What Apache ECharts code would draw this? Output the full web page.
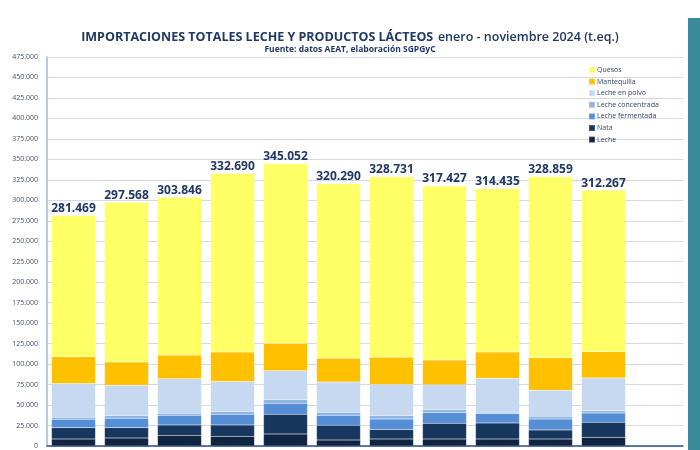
<!DOCTYPE html>
<html>
<head>
<meta charset="utf-8">
<script src="https://cdn.jsdelivr.net/npm/echarts@6/dist/echarts.min.js"></script>
<style>
html,body{margin:0;padding:0;background:#fff;}
#chart{width:700px;height:450px;}
</style>
</head>
<body>
<div id="chart"></div>
<script>
// meses enero - noviembre (la última casilla queda vacía)
var meses = ['ene','feb','mar','abr','may','jun','jul','ago','sep','oct','nov',''];

var leche        = [8600, 9800, 13000, 11800, 14700, 7300, 8600, 8600, 8600, 8600, 10700];
var nata         = [13800, 12600, 12700, 13900, 24000, 17900, 11700, 19100, 19600, 11000, 18300];
var fermentada   = [10200, 11400, 11800, 13000, 13500, 12300, 12700, 13100, 11500, 13400, 11400];
var concentrada  = [2400, 3300, 2500, 3300, 4500, 3700, 4100, 3700, 1600, 3400, 2500];
var polvo        = [41300, 37200, 42000, 36800, 35200, 36800, 38000, 30200, 41300, 31800, 40000];
var mantequilla  = [32700, 28200, 29000, 35900, 33400, 29000, 33400, 30200, 32200, 39600, 32300];
var quesos       = [172500, 195100, 192800, 218000, 219800, 213300, 220200, 212500, 199600, 221100, 197100];
var totales      = [281469, 297568, 303846, 332690, 345052, 320290, 328731, 317427, 314435, 328859, 312267];

var font = 'Open Sans';
var azul = '#1f3864';

function miles(v){
	return String(v).replace(/\B(?=(\d{3})+(?!\d))/g, '.');
}

function serie(nombre, datos, color){
	return {
		name: nombre,
		type: 'bar',
		stack: 'total',
		barCategoryGap: '17%',
		data: datos,
		itemStyle: {color: color, borderColor: 'rgba(255,255,255,0.2)', borderWidth: 0.5},
		emphasis: {disabled: true}
	};
}

var series = [
	serie('Leche', leche, '#0f2440'),
	serie('Nata', nata, '#17375e'),
	serie('Leche fermentada', fermentada, '#558ed5'),
	serie('Leche concentrada', concentrada, '#8eb4e3'),
	serie('Leche en polvo', polvo, '#c6d9f1'),
	serie('Mantequilla', mantequilla, '#ffc000'),
	serie('Quesos', quesos, '#ffff66')
];
//etiqueta del total encima de cada barra
series[6].label = {
	show: true,
	position: 'top',
	distance: 1,
	fontFamily: font,
	fontWeight: 'bold',
	fontSize: 12,
	color: azul,
	formatter: function(p){ return miles(totales[p.dataIndex]); }
};

var option = {
	animation: false,
	textStyle: {fontFamily: font},
	title: {
		text: '{b|IMPORTACIONES TOTALES LECHE Y PRODUCTOS LÁCTEOS} {n|enero - noviembre 2024 (t.eq.)}',
		subtext: 'Fuente: datos AEAT, elaboración SGPGyC',
		left: 'center',
		top: 23,
		itemGap: -1,
		textStyle: {
			rich: {
				b: {fontFamily: font, fontSize: 12.5, fontWeight: 'bold', color: azul},
				n: {fontFamily: font, fontSize: 12.5, fontWeight: 600, color: azul}
			}
		},
		subtextStyle: {fontFamily: font, fontSize: 8.5, fontWeight: 'bold', color: azul}
	},
	legend: {
		orient: 'vertical',
		left: 583,
		top: 61,
		itemWidth: 6,
		itemHeight: 6,
		itemGap: 3.6,
		icon: 'rect',
		data: ['Quesos','Mantequilla','Leche en polvo','Leche concentrada','Leche fermentada','Nata','Leche'],
		textStyle: {fontFamily: font, fontSize: 7, color: '#34446a', padding: [0,0,0,-3]}
	},
	grid: {left: 47, right: 17, top: 57, bottom: 4, containLabel: false},
	xAxis: {
		type: 'category',
		data: meses,
		axisLine: {lineStyle: {color: '#2f4f8f', width: 1.5}},
		axisTick: {show: false},
		axisLabel: {show: false}
	},
	yAxis: {
		type: 'value',
		min: 0,
		max: 475000,
		interval: 25000,
		axisLine: {show: true, lineStyle: {color: '#9db8e0', width: 1.5}},
		axisTick: {show: false},
		splitLine: {lineStyle: {color: '#d6d8e6', width: 1}},
		axisLabel: {
			fontFamily: font,
			fontSize: 7,
			color: '#44506a',
			margin: 9,
			formatter: function(v){ return miles(v); }
		}
	},
	graphic: [
		{type: 'rect', shape: {x: 688, y: 18, width: 12, height: 432}, style: {fill: '#3a8a9a'}}
	],
	series: series
};

echarts.init(document.getElementById('chart')).setOption(option);
</script>
</body>
</html>
